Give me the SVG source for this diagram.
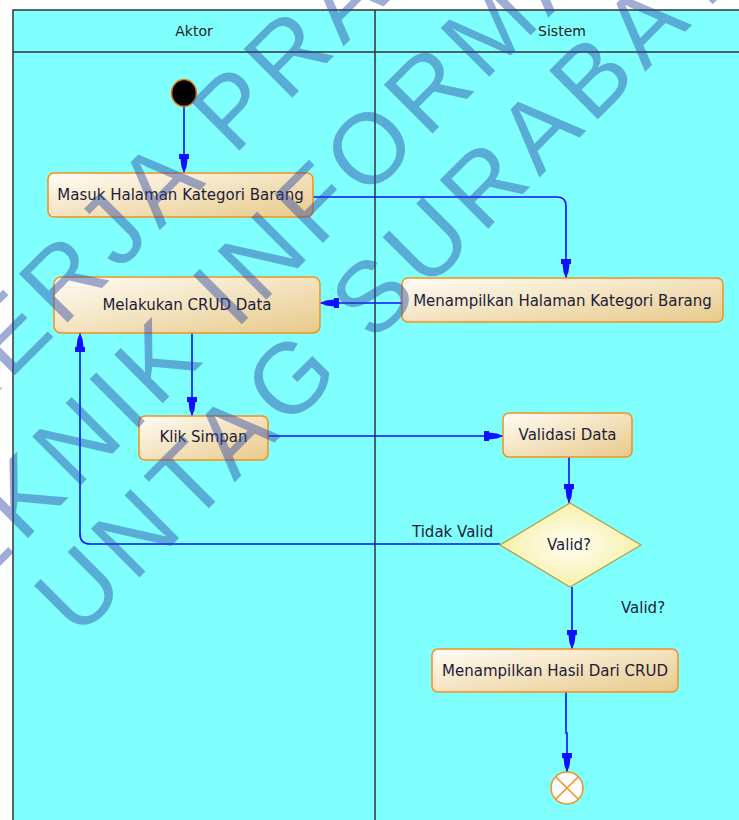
<svg xmlns="http://www.w3.org/2000/svg" width="739" height="820" viewBox="0 0 739 820">
<defs>
<linearGradient id="nodeGrad" x1="0" y1="0" x2="1" y2="1">
<stop offset="0" stop-color="#fffdf6"/>
<stop offset="1" stop-color="#e8c98a"/>
</linearGradient>
<radialGradient id="decGrad" cx="0.5" cy="0.5" r="0.6">
<stop offset="0" stop-color="#fffff2"/>
<stop offset="1" stop-color="#f6ec9c"/>
</radialGradient>
<marker id="arr" viewBox="-20 -6 20 12" refX="0" refY="0" markerWidth="20" markerHeight="12" markerUnits="userSpaceOnUse" orient="auto">
<path d="M0,0 L-6,-2.5 L-14,-3.5 L-14,-5 L-19,-5 L-19,5 L-14,5 L-14,3.5 L-6,2.5 Z" fill="#1010ff"/>
</marker>
<style>
.lane{fill:none;stroke:#333;stroke-width:1.5}
.hdr{font-family:"DejaVu Sans",sans-serif;font-size:14px;fill:#222;text-anchor:middle}
.node{fill:url(#nodeGrad);stroke:#f5901e;stroke-width:1.5}
.lbl{font-family:"DejaVu Sans",sans-serif;font-size:15px;fill:#1c1c3a;text-anchor:middle}
.elbl{font-family:"DejaVu Sans",sans-serif;font-size:15px;fill:#1c1c3a}
.con{fill:none;stroke:#1010ff;stroke-width:1.6;marker-end:url(#arr)}
.wm{font-family:"Liberation Sans",sans-serif;font-size:100px;fill:#2a48a2;fill-opacity:0.45;text-anchor:middle;letter-spacing:8px}
</style>
</defs>
<rect x="0" y="0" width="739" height="820" fill="#ffffff"/>
<g id="swimlanes">
<rect x="13" y="10" width="740" height="820" fill="#80ffff"/>
<path class="lane" d="M13,820 V10 H739 M13,52 H739 M375,10 V820"/>
<text class="hdr" x="194" y="36">Aktor</text>
<text class="hdr" x="562" y="36">Sistem</text>
</g>
<g id="connectors">
<path class="con" d="M184,107 V173"/>
<path class="con" d="M313,197 H557 Q566,197 566,206 V278"/>
<path class="con" d="M402,303 H320"/>
<path class="con" d="M192,333 V416"/>
<path class="con" d="M268,436 H503"/>
<path class="con" d="M569,457 V503"/>
<path class="con" d="M500,544 H90 Q80,544 80,534 V333"/>
<path class="con" d="M572,587 V649"/>
<path class="con" d="M566,692 V733 H567 V772"/>
<text class="elbl" x="412" y="537">Tidak Valid</text>
<text class="elbl" x="621" y="613">Valid?</text>
</g>
<g id="start">
<ellipse cx="184" cy="93" rx="12.5" ry="13.5" fill="#000" stroke="#e8801a" stroke-width="1.5"/>
</g>
<g id="masuk">
<rect class="node" x="48" y="173" width="265" height="44" rx="6"/>
<text class="lbl" x="180.5" y="200">Masuk Halaman Kategori Barang</text>
</g>
<g id="melakukan">
<rect class="node" x="54" y="277" width="266" height="56" rx="7"/>
<text class="lbl" x="187" y="310">Melakukan CRUD Data</text>
</g>
<g id="menampilkanHalaman">
<rect class="node" x="402" y="278" width="321" height="44" rx="6"/>
<text class="lbl" x="562.5" y="306">Menampilkan Halaman Kategori Barang</text>
</g>
<g id="klik">
<rect class="node" x="139" y="416" width="129" height="44" rx="6"/>
<text class="lbl" x="203.5" y="442">Klik Simpan</text>
</g>
<g id="validasi">
<rect class="node" x="503" y="413" width="129" height="44" rx="6"/>
<text class="lbl" x="567.5" y="440">Validasi Data</text>
</g>
<g id="decision">
<polygon points="570,503 641,545 570,587 500,545" fill="url(#decGrad)" stroke="#b3a040" stroke-width="1.2"/>
<text class="lbl" x="569" y="550">Valid?</text>
</g>
<g id="hasil">
<rect class="node" x="432" y="649" width="246" height="43" rx="6"/>
<text class="lbl" x="555" y="676">Menampilkan Hasil Dari CRUD</text>
</g>
<g id="end">
<circle cx="567" cy="788" r="16" fill="#fff" stroke="#f5901e" stroke-width="1.5"/>
<path d="M555.7,776.7 L578.3,799.3 M578.3,776.7 L555.7,799.3" stroke="#f5901e" stroke-width="1.5"/>
</g>
<g id="watermark">
<text class="wm" transform="translate(266,124) rotate(-45)">KERJA PRAKTIK</text>
<text class="wm" transform="translate(348,218) rotate(-45)">TEKNIK INFORMATIKA</text>
<text class="wm" transform="translate(435,282) rotate(-45)">UNTAG SURABAYA</text>
</g>
</svg>
